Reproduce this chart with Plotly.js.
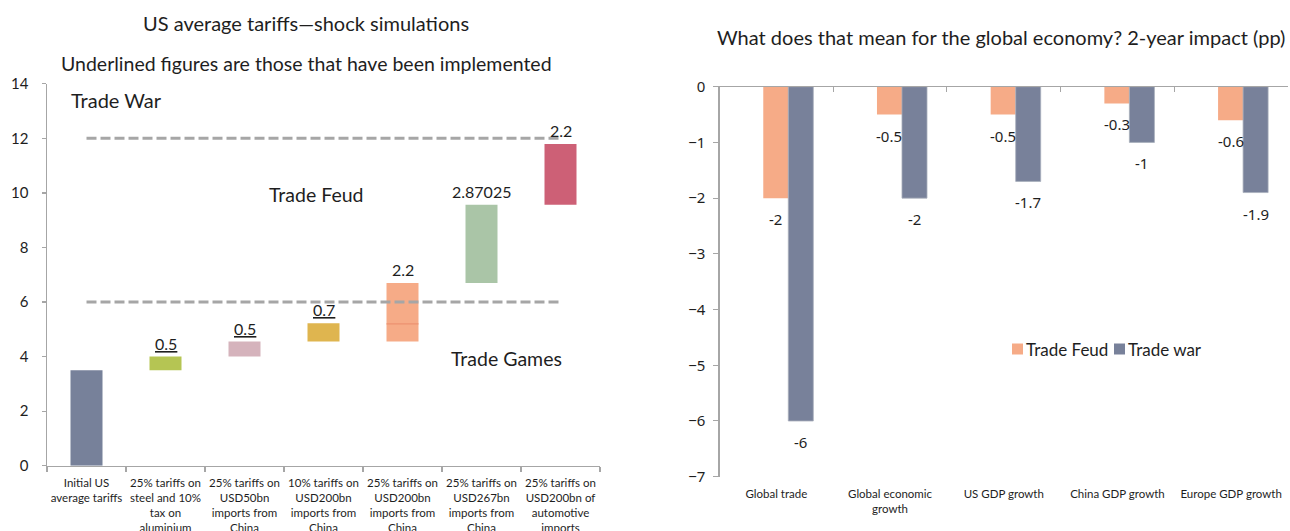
<!DOCTYPE html>
<html>
<head>
<meta charset="utf-8">
<script src="https://cdn.plot.ly/plotly-3.0.1.min.js"></script>
<style>html,body{margin:0;padding:0;background:#fff}#chart{width:1290px;height:531px}</style>
</head>
<body>
<div id="chart"></div>
<script>
// ---------- Left chart data ----------
const leftCategories = [
  'Initial US<br>average tariffs',
  '25% tariffs on<br>steel and 10%<br>tax on<br>aluminium',
  '25% tariffs on<br>USD50bn<br>imports from<br>China',
  '10% tariffs on<br>USD200bn<br>imports from<br>China',
  '25% tariffs on<br>USD200bn<br>imports from<br>China',
  '25% tariffs on<br>USD267bn<br>imports from<br>China',
  '25% tariffs on<br>USD200bn of<br>automotive<br>imports'
];
const leftBase   = [0, 3.5, 4.0, 4.55, 4.55, 6.7, 9.57];
const leftHeight = [3.5, 0.5, 0.55, 0.67, 2.15, 2.87, 2.22];
const leftColors = ['#77819A', '#B5C553', '#D5B3BC', '#DFB54F', '#F6AB87', '#AAC5A7', '#CD6076'];
const leftLabels = ['', '0.5', '0.5', '0.7', '2.2', '2.87025', '2.2'];
const leftImplemented = [false, true, true, true, false, false, false];
const splitCategoryIndex = 4;   // orange bar has an internal split
const splitValue = 5.2;
const thresholds = [6, 12];     // Trade games / feud / war thresholds
const regionNames = ['Trade War', 'Trade Feud', 'Trade Games'];

// ---------- Right chart data ----------
const rightCategories = ['Global trade', 'Global economic growth', 'US GDP growth', 'China GDP growth', 'Europe GDP growth'];
const rightTickText   = ['Global trade', 'Global economic<br>growth', 'US GDP growth', 'China GDP growth', 'Europe GDP growth'];
const tradeFeud = [-2, -0.5, -0.5, -0.3, -0.6];
const tradeWar  = [-6, -2, -1.7, -1, -1.9];

const W = 1290, H = 531;
const px = p => p / W;
const py = p => 1 - p / H;
const FONT = 'Lato, "Open Sans", sans-serif';
const NUMFONT = '"Noto Sans", "Open Sans", sans-serif';
const TXT = '#1e1e1e';
const AX = '#A6A6A6';

const traces = [];
// Left waterfall bars
traces.push({
  type: 'bar', x: leftCategories, y: leftHeight, base: leftBase,
  marker: {color: leftColors}, width: 0.405,
  xaxis: 'x', yaxis: 'y', hoverinfo: 'skip'
});
// split line inside orange bar
traces.push({
  type: 'bar', x: [leftCategories[splitCategoryIndex]], y: [0.04], base: [splitValue - 0.02],
  marker: {color: '#EC9270'}, width: 0.405,
  xaxis: 'x', yaxis: 'y', hoverinfo: 'skip'
});
// threshold dashed lines
thresholds.forEach(t => {
  traces.push({
    type: 'scatter', mode: 'lines',
    x: [leftCategories[0], leftCategories[leftCategories.length - 1]], y: [t, t],
    line: {color: AX, width: 3, dash: '10px,4px'},
    xaxis: 'x', yaxis: 'y', hoverinfo: 'skip'
  });
});

// Right bars
const wBar = 0.22, offFeud = -0.115, offWar = 0.105;
traces.push({
  type: 'bar', name: 'Trade Feud', x: rightCategories, y: tradeFeud,
  width: wBar, offset: offFeud, marker: {color: '#F6AB87'},
  xaxis: 'x2', yaxis: 'y2', hoverinfo: 'skip'
});
traces.push({
  type: 'bar', name: 'Trade war', x: rightCategories, y: tradeWar,
  width: wBar, offset: offWar, marker: {color: '#78819A', line: {color: '#A8AEBB', width: 0.8}},
  xaxis: 'x2', yaxis: 'y2', hoverinfo: 'skip'
});
// empty helper trace so the top (zero-line) category axis is drawn
traces.push({type: 'scatter', mode: 'none', x: [], y: [], xaxis: 'x3', yaxis: 'y2', hoverinfo: 'skip'});

const annotations = [];
// Titles
annotations.push({xref: 'paper', yref: 'paper', x: px(306), y: py(22.7), xanchor: 'center', yanchor: 'middle',
  text: 'US average tariffs\u2014shock simulations', showarrow: false, font: {family: FONT, size: 20, color: TXT}});
annotations.push({xref: 'paper', yref: 'paper', x: px(306), y: py(63.3), xanchor: 'center', yanchor: 'middle',
  text: 'Underlined figures are those that have been implemented', showarrow: false, font: {family: FONT, size: 19.5, color: TXT}});
annotations.push({xref: 'paper', yref: 'paper', x: px(1001), y: py(37), xanchor: 'center', yanchor: 'middle',
  text: 'What does that mean for the global economy? 2-year impact (pp)', showarrow: false, font: {family: FONT, size: 20, color: TXT}});

// Left bar labels
leftLabels.forEach((l, i) => {
  if (!l) return;
  annotations.push({xref: 'x', yref: 'y', x: i, y: leftBase[i] + leftHeight[i],
    xanchor: 'center', yanchor: 'bottom', yshift: 2, showarrow: false,
    text: leftImplemented[i] ? '<u>' + l + '</u>' : l,
    font: {family: FONT, size: 16, color: TXT}});
});
// Region labels
const regionPos = [[116.5, 100, 20], [316, 194, 19.5], [506, 358, 19.5]];
regionNames.forEach((n, i) => {
  annotations.push({xref: 'paper', yref: 'paper', x: px(regionPos[i][0]), y: py(regionPos[i][1]),
    xanchor: 'center', yanchor: 'middle', showarrow: false, text: n,
    font: {family: FONT, size: regionPos[i][2], color: TXT}});
});
// Right bar labels
tradeFeud.forEach((v, i) => {
  annotations.push({xref: 'x2', yref: 'y2', x: i + offFeud + wBar / 2, y: v, xanchor: 'center', yanchor: 'top',
    yshift: -9, showarrow: false, text: String(v), font: {family: NUMFONT, size: 15, color: TXT}});
});
tradeWar.forEach((v, i) => {
  annotations.push({xref: 'x2', yref: 'y2', x: i + offWar + wBar / 2, y: v, xanchor: 'center', yanchor: 'top',
    yshift: -9, showarrow: false, text: String(v), font: {family: NUMFONT, size: 15, color: TXT}});
});
// Custom legend text
annotations.push({xref: 'paper', yref: 'paper', x: px(1024), y: py(349), xanchor: 'left', yanchor: 'middle',
  showarrow: false, text: 'Trade Feud', font: {family: FONT, size: 17, color: TXT}});
annotations.push({xref: 'paper', yref: 'paper', x: px(1126), y: py(349), xanchor: 'left', yanchor: 'middle',
  showarrow: false, text: 'Trade war', font: {family: FONT, size: 17, color: TXT}});

const shapes = [
  {type: 'rect', xref: 'paper', yref: 'paper', x0: px(1012), x1: px(1023), y0: py(354.5), y1: py(343.5), fillcolor: '#F6AB87', line: {width: 0}},
  {type: 'rect', xref: 'paper', yref: 'paper', x0: px(1114), x1: px(1125), y0: py(354.5), y1: py(343.5), fillcolor: '#78819A', line: {width: 0}}
];

const layout = {
  width: W, height: H, margin: {l: 0, r: 0, t: 0, b: 0},
  paper_bgcolor: '#fff', plot_bgcolor: 'rgba(0,0,0,0)',
  showlegend: false, barmode: 'overlay',
  font: {family: FONT, color: TXT},
  xaxis: {
    domain: [px(47), px(600)], anchor: 'y', type: 'category', range: [-0.5, 6.5],
    showline: true, linecolor: AX, linewidth: 1.5,
    ticks: 'outside', tickson: 'boundaries', ticklen: 5, tickcolor: AX, tickwidth: 1.2,
    tickangle: 0,
    tickfont: {family: FONT, size: 11.5, color: TXT}, ticklabelstandoff: 6,
    showgrid: false, zeroline: false, fixedrange: true
  },
  yaxis: {
    domain: [py(465.7), py(83.8)], anchor: 'x', range: [0, 14], dtick: 2,
    showline: true, linecolor: AX, linewidth: 1.5,
    ticks: 'outside', ticklen: 4, tickcolor: AX, tickwidth: 1.2,
    tickfont: {family: FONT, size: 15, color: TXT}, ticklabelstandoff: 10,
    showgrid: false, zeroline: false, fixedrange: true
  },
  xaxis2: {
    domain: [px(719.5), px(1288)], anchor: 'y2', type: 'category', side: 'bottom', range: [-0.5, 4.5],
    tickmode: 'array', tickvals: rightCategories, ticktext: rightTickText,
    showline: false, ticks: '', tickangle: 0,
    tickfont: {family: FONT, size: 11.5, color: TXT}, ticklabelstandoff: 9,
    showgrid: false, zeroline: false, fixedrange: true
  },
  xaxis3: {
    overlaying: 'x2', anchor: 'y2', side: 'top', type: 'linear', range: [-0.5, 4.5],
    tickmode: 'linear', tick0: -0.5, dtick: 1,
    showline: true, linecolor: AX, linewidth: 1.2,
    ticks: 'inside', ticklen: 5, tickcolor: AX, tickwidth: 1,
    showticklabels: false, showgrid: false, zeroline: false, fixedrange: true
  },
  yaxis2: {
    domain: [py(476.7), py(86.7)], anchor: 'x2', range: [-7, 0], dtick: 1,
    showline: true, linecolor: AX, linewidth: 1.2,
    ticks: 'outside', ticklen: 5, tickcolor: AX, tickwidth: 1,
    tickfont: {family: NUMFONT, size: 15, color: TXT}, ticklabelstandoff: 5,
    showgrid: false, zeroline: false, fixedrange: true
  },
  annotations: annotations,
  shapes: shapes
};

Plotly.newPlot('chart', traces, layout, {displayModeBar: false, staticPlot: true});
</script>
</body>
</html>
